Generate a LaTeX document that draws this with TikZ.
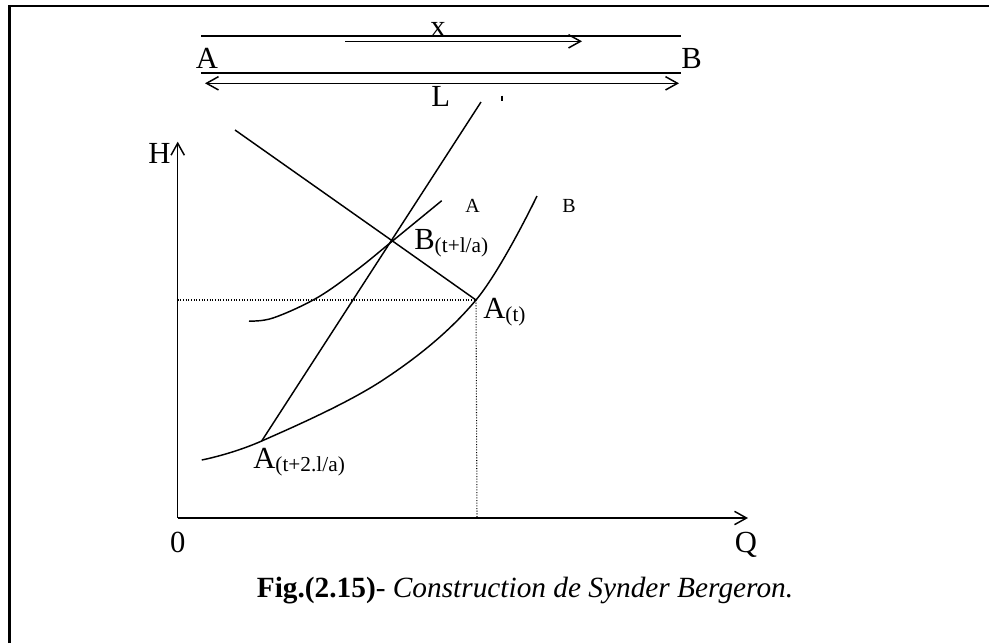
\documentclass[tikz,border=0pt]{standalone}
\usepackage{fontspec}
\setmainfont{Liberation Serif}
\usetikzlibrary{arrows.meta}
\tikzset{
  ln/.style={line width=1.1pt},
  dotl/.style={line width=0.8pt, dash pattern=on 0.8pt off 1.2pt},
  barb/.style={-{Straight Barb[length=9pt,width=10pt,line width=1.1pt]}},
  dbarb/.style={{Straight Barb[length=9pt,width=10pt,line width=1.1pt]}-{Straight Barb[length=9pt,width=10pt,line width=1.1pt]}},
  big/.style={font=\fontsize{23}{27}\selectfont, inner sep=0pt},
  small/.style={font=\fontsize{15}{18}\selectfont, inner sep=0pt},
}
\newcommand{\subx}[1]{\raisebox{-2.5pt}{\fontsize{16}{19}\selectfont #1}}
\begin{document}
\begin{tikzpicture}[x=0.75pt,y=-0.75pt]
\useasboundingbox (0,0) rectangle (989,643);
% frame
\draw[line width=1.6pt] (9.5,643) -- (9.5,5.7) -- (989,5.7);
% pipe
\coordinate (p1a) at (201,36); \coordinate (p1b) at (681,36);
\coordinate (p2a) at (201,73); \coordinate (p2b) at (681,73);
\draw[ln] (p1a) -- (p1b);
\draw[ln] (p2a) -- (p2b);
\coordinate (xa) at (345,41.3); \coordinate (xb) at (582,41.3);
\draw[ln,barb] (xa) -- (xb);
\coordinate (La) at (205,83.3); \coordinate (Lb) at (679,83.3);
\draw[ln,dbarb] (La) -- (Lb);
\node[big,anchor=base] (xl) at (438,36) {x};
\node[big,anchor=base west] (Al) at (195.5,68.5) {A};
\node[big,anchor=base west] (Bl) at (681,68) {B};
\node[big,anchor=base west] (Ll) at (431,106) {L};
\coordinate (tk1) at (502,95.5); \coordinate (tk2) at (502,100.5);
\draw[line width=0.8pt] (tk1) -- (tk2);
% axes
\coordinate (O) at (177.7,518);
\coordinate (Htop) at (177.7,141.7);
\coordinate (Qend) at (748,518);
\draw[ln,barb] (O) -- (Htop);
\draw[ln,barb] (O) -- (Qend);
\node[big,anchor=base] (Hl) at (159.5,163) {H};
\node[big,anchor=base] (Ol) at (177.7,552) {0};
\node[big,anchor=base] (Ql) at (746,552) {Q};
% points
\coordinate (At) at (476,300);
\coordinate (Bp) at (392.5,241);
\coordinate (A2) at (261.7,441);
\coordinate (Ltop) at (235,130);
\coordinate (Stop) at (481,102);
\coordinate (Hd) at (177.7,300);
\coordinate (Qd) at (477,518);
% dotted
\draw[dotl] (Hd) -- (At);
\draw[dotl] (At) -- (Qd);
% lines
\draw[ln] (Ltop) -- (Bp) -- (At);
\draw[ln] (A2) -- (Stop);
% curves
\draw[ln] plot[smooth,tension=0.6] coordinates {(201.7,460) (261.7,441) (383,380) (476,300) (537,196)};
\draw[ln] plot[smooth,tension=0.6] coordinates {(249,321) (273,318) (316.7,298) (356.7,270) (392.5,241) (441.7,200.7)};
\node[small,anchor=base] (cA) at (472.5,212) {A};
\node[small,anchor=base] (cB) at (569,212) {B};
% point labels
\node[big,anchor=base west] (Blab) at (414,249) {B\subx{(t+l/a)}};
\node[big,anchor=base west] (Atlab) at (483,318) {A\subx{(t)}};
\node[big,anchor=base west] (A2lab) at (253,468) {A\subx{(t+2.l/a)}};
% caption
\node[anchor=base,inner sep=0pt,font=\fontsize{22}{26}\selectfont] (cap) at (525,597) {\textbf{Fig.(2.15)}- \textit{Construction de Synder Bergeron.}};
\end{tikzpicture}
\end{document}
